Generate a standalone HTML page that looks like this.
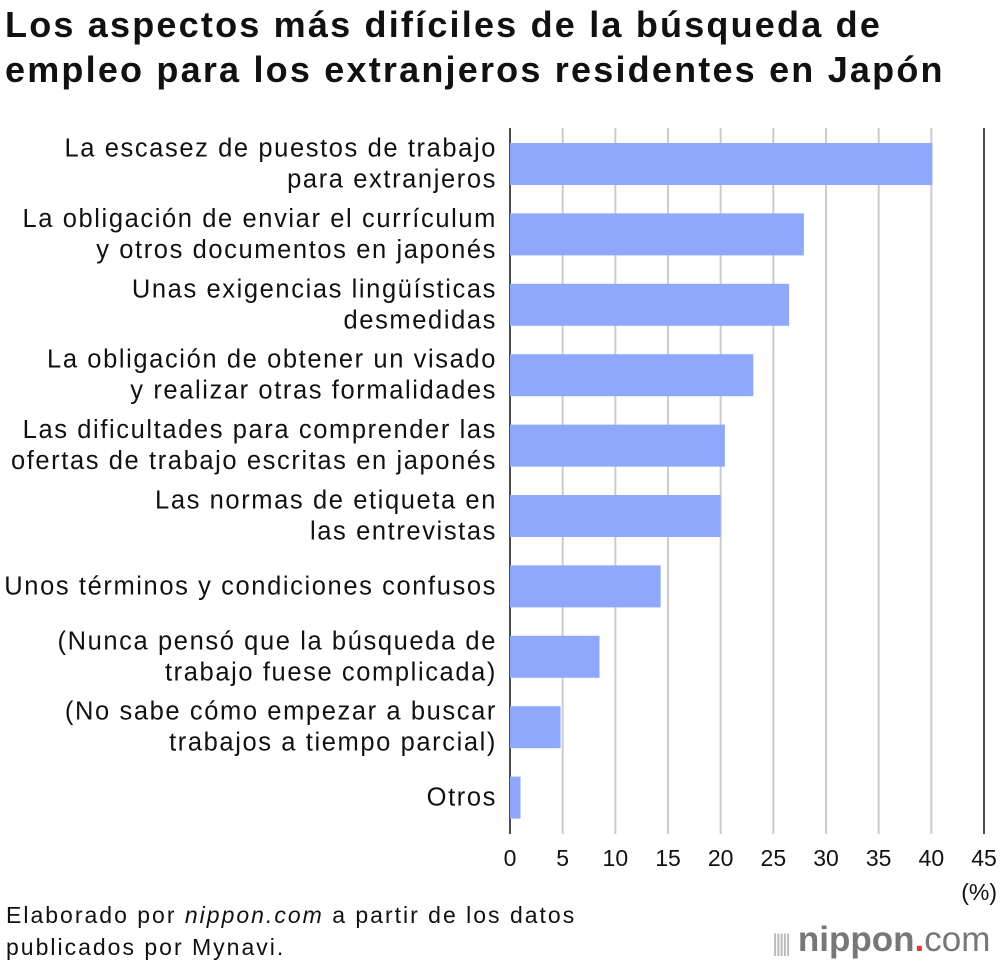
<!DOCTYPE html>
<html><head><meta charset="utf-8"><style>
body{margin:0;background:#fff;width:1000px;height:962px;overflow:hidden;font-family:"Liberation Sans",sans-serif;}
#title{position:absolute;left:5px;top:2px;font-size:36px;font-weight:bold;line-height:45px;color:#111;letter-spacing:2.2px;white-space:nowrap}
#src{position:absolute;left:6px;top:899px;font-size:23px;line-height:32px;color:#111;letter-spacing:2.0px;white-space:nowrap}
#logo{position:absolute;left:772px;top:920px;font-size:35px;color:#777;font-weight:bold;white-space:nowrap}
</style></head><body>
<div id="title">Los aspectos más difíciles de la búsqueda de<br>empleo para los extranjeros residentes en Japón</div>
<svg id="chart" width="1000" height="962" style="position:absolute;left:0;top:0"></svg>
<div id="src">Elaborado por <i>nippon.com</i> a partir de los datos<br>publicados por Mynavi.</div>
<div id="logo"><span style="font-size:24px;font-weight:normal;color:#bbb;letter-spacing:-3px">|||||</span> nippon<span style="color:#e33">.</span><span style="font-weight:normal">com</span></div>
<script>
const categories=[["La escasez de puestos de trabajo","para extranjeros"],["La obligación de enviar el currículum","y otros documentos en japonés"],["Unas exigencias lingüísticas","desmedidas"],["La obligación de obtener un visado","y realizar otras formalidades"],["Las dificultades para comprender las","ofertas de trabajo escritas en japonés"],["Las normas de etiqueta en","las entrevistas"],["Unos términos y condiciones confusos"],["(Nunca pensó que la búsqueda de","trabajo fuese complicada)"],["(No sabe cómo empezar a buscar","trabajos a tiempo parcial)"],["Otros"]];
const values=[40.1,27.9,26.5,23.1,20.4,20.0,14.3,8.5,4.8,1.0];
const ticks=[0,5,10,15,20,25,30,35,40,45];
const svg=document.getElementById('chart');const NS='http://www.w3.org/2000/svg';
const x=v=>510+v*(984-510)/45;
const yRow=i=>143+i*70.4;
const barH=42;
function mk(t,a){const e=document.createElementNS(NS,t);for(const k in a)e.setAttribute(k,a[k]);svg.appendChild(e);return e;}
ticks.forEach(t=>{
 const l=mk('line',{x1:x(t),x2:x(t),y1:128,y2:834,stroke:t===0||t===45?'#111':'#ccc','stroke-width':t===0||t===45?1.5:2});
 
 
 const tx=mk('text',{x:x(t),y:866,'text-anchor':'middle','font-size':23,fill:'#111'});tx.textContent=t;
 
 
});
const u=mk('text',{x:997,y:900,'text-anchor':'end','font-size':23,fill:'#111'});u.textContent='(%)';


values.forEach((v,i)=>{
 const r=mk('rect',{x:x(0),y:yRow(i),width:x(v)-x(0),height:barH,fill:'#90a8fc'});
 
 
 const lines=categories[i];const cy=yRow(i)+barH/2;
 lines.forEach((s,j)=>{
  const t=mk('text',{x:497,y:cy+8+(j-(lines.length-1)/2)*31,'text-anchor':'end','font-size':25.5,fill:'#111','letter-spacing':'1.6'});t.textContent=s;
  
  
 });
});
</script>
</body></html>
